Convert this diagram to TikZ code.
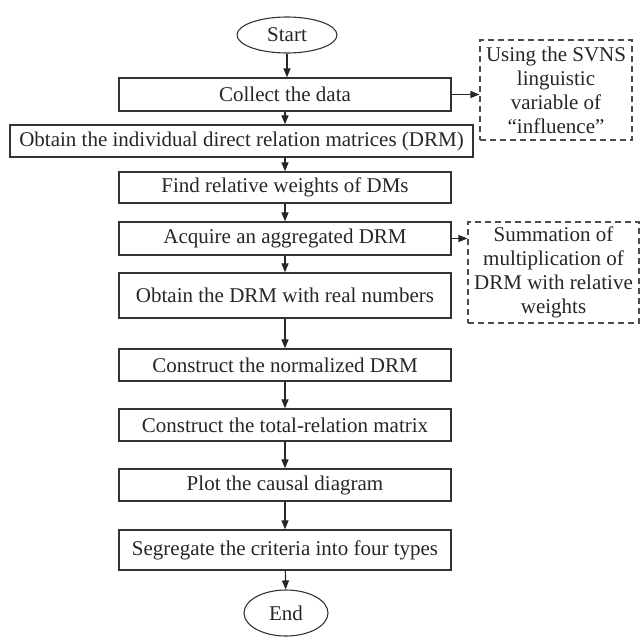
\documentclass[tikz,border=0pt]{standalone}
\usepackage{fontspec}
\setmainfont{Liberation Serif}
\usetikzlibrary{arrows.meta,shapes.geometric}
\begin{document}
\begin{tikzpicture}[x=1pt,y=-1pt,
  every node/.style={font=\fontsize{21}{24}\selectfont, text=black!85},
  stepbox/.style={draw=black!80, line width=1.3pt, rectangle, inner sep=0pt, minimum width=332pt},
  term/.style={draw=black!80, line width=1.1pt, ellipse, inner sep=0pt},
  notebox/.style={draw=black!70, line width=1.1pt, dash pattern=on 6pt off 4pt, rectangle, inner sep=0pt, align=center},
  arr/.style={draw=black!85, line width=1.2pt, -{Triangle[length=9pt,width=7pt]}}]
\useasboundingbox (0,0) rectangle (644,637);
\node[term, minimum width=100pt, minimum height=36pt] (start) at (287,35) {Start};
\node[stepbox, minimum height=33pt] (collect) at (285,94.5) {Collect the data};
\node[stepbox, minimum width=463pt, minimum height=32pt] (ind) at (241.5,141) {Obtain the individual direct relation matrices (DRM)};
\node[stepbox, minimum height=31pt] (find) at (285,187.5) {Find relative weights of DMs};
\node[stepbox, minimum height=33pt] (acq) at (285,238.5) {Acquire an aggregated DRM};
\node[stepbox, minimum height=45pt] (real) at (285,295.5) {Obtain the DRM with real numbers};
\node[stepbox, minimum height=32pt] (norm) at (285,365) {Construct the normalized DRM};
\node[stepbox, minimum height=32pt] (total) at (285,425) {Construct the total-relation matrix};
\node[stepbox, minimum height=32pt] (plot) at (285,485) {Plot the causal diagram};
\node[stepbox, minimum height=40pt] (seg) at (285,550) {Segregate the criteria into four types};
\node[term, minimum width=84pt, minimum height=46pt] (end) at (286,613) {End};
\node[notebox, minimum width=152pt, minimum height=100pt] (note1) at (556,90) {Using the SVNS\\linguistic\\variable of\\“influence”};
\node[notebox, minimum width=171pt, minimum height=101pt] (note2) at (553.5,272.5) {Summation of\\multiplication of\\DRM with relative\\weights};
\draw[arr] (start) -- (start |- collect.north);
\draw[arr] (collect) -- (collect |- ind.north);
\draw[arr] (collect |- ind.south) -- (find);
\draw[arr] (find) -- (acq);
\draw[arr] (acq) -- (real);
\draw[arr] (real) -- (norm);
\draw[arr] (norm) -- (total);
\draw[arr] (total) -- (plot);
\draw[arr] (plot) -- (seg);
\draw[arr] (seg) -- (end);
\draw[arr] (collect) -- (collect -| note1.west);
\draw[arr] (acq) -- (acq -| note2.west);
\end{tikzpicture}
\end{document}
